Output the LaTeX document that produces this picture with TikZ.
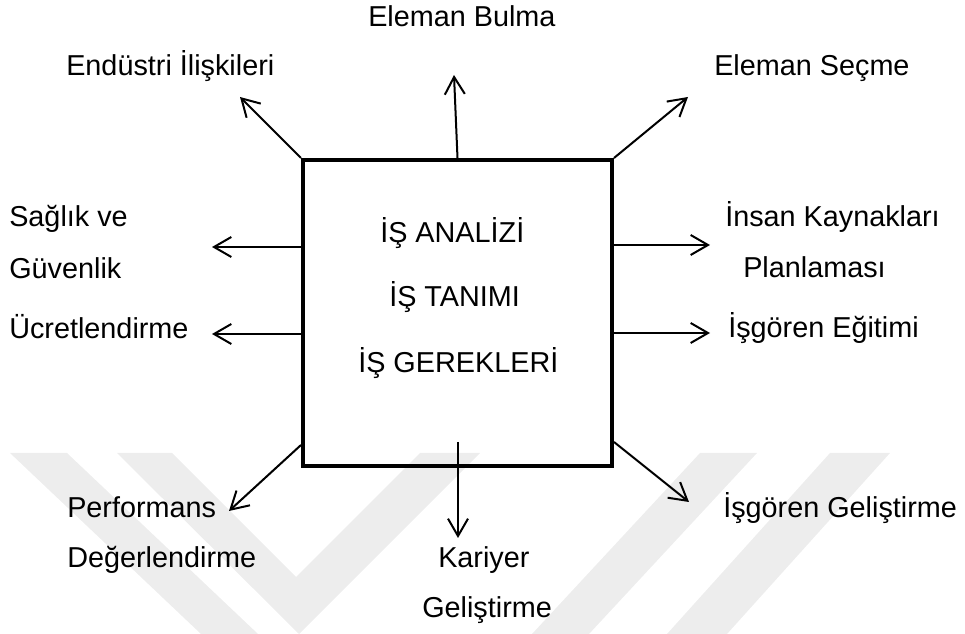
\documentclass[tikz,border=0pt]{standalone}
\usepackage{fontspec}
\setmainfont{Liberation Sans}
\usetikzlibrary{arrows.meta,calc}
\begin{document}
\begin{tikzpicture}[x=0.75pt,y=-0.75pt,
  lbl/.style={anchor=base west,inner sep=0pt,font=\fontsize{21.6}{26}\selectfont},
  arr/.style={line width=1.5pt,-{Straight Barb[length=13pt,width=15pt,line width=1.5pt]}},
  wm/.style={fill=black!7,draw=none},
  mainbox/.style={draw,line width=3pt,minimum width=231.75pt,minimum height=229.5pt,inner sep=0pt}]
\useasboundingbox (0,0) rectangle (965,634);
% faint watermark
\fill[wm] (10,453) -- (67,453) -- (258,634) -- (201,634) -- cycle;
\fill[wm] (117,453) -- (172,453) -- (296,577) -- (420,453) -- (480,453) -- (299,634) -- cycle;
\fill[wm] (700,453) -- (757,453) -- (589,634) -- (532,634) -- cycle;
\fill[wm] (830,453) -- (890,453) -- (727,634) -- (667,634) -- cycle;
% central box
\node[mainbox] (box) at (457.5,313) {};
\node[lbl] (t1) at (380,243) {İŞ ANALİZİ};
\node[lbl] (t2) at (389,307) {İŞ TANIMI};
\node[lbl] (t3) at (358,373) {İŞ GEREKLERİ};
% labels
\node[lbl] (bulma) at (368,27) {Eleman Bulma};
\node[lbl] (endus) at (66,76) {Endüstri İlişkileri};
\node[lbl] (secme) at (714,76) {Eleman Seçme};
\node[lbl] (sag1) at (9,227) {Sağlık ve};
\node[lbl] (sag2) at (9,279) {Güvenlik};
\node[lbl] (ucret) at (9,339) {Ücretlendirme};
\node[lbl] (ins1) at (725,227) {İnsan Kaynakları};
\node[lbl] (ins2) at (743,278) {Planlaması};
\node[lbl] (egit) at (728,338) {İşgören Eğitimi};
\node[lbl] (perf1) at (67,518) {Performans};
\node[lbl] (perf2) at (67,568) {Değerlendirme};
\node[lbl] (kar1) at (438,568) {Kariyer};
\node[lbl] (kar2) at (422,618) {Geliştirme};
\node[lbl] (gel) at (723,518) {İşgören Geliştirme};
% arrow tips
\coordinate (tEnd) at (240,97);
\coordinate (tBul) at (454,75);
\coordinate (tSec) at (688,97);
\coordinate (tSag) at (212,247);
\coordinate (tUcr) at (212,334);
\coordinate (tIns) at (710,245);
\coordinate (tEgi) at (710,333);
\coordinate (tPer) at (229,511);
\coordinate (tKar) at (458,538);
\coordinate (tGel) at (689,502);
% arrows
\draw[arr] (box.north west) -- (tEnd);
\draw[arr] (box.north) -- (tBul);
\draw[arr] (box.north east) -- (tSec);
\draw[arr] (box.west |- tSag) -- (tSag);
\draw[arr] (box.west |- tUcr) -- (tUcr);
\draw[arr] (box.east |- tIns) -- (tIns);
\draw[arr] (box.east |- tEgi) -- (tEgi);
\draw[arr] ($(box.south west)+(0,-23)$) -- (tPer);
\draw[arr] ($(box.south)+(0.5,-26)$) -- (tKar);
\draw[arr] ($(box.south east)+(0,-26)$) -- (tGel);
\end{tikzpicture}
\end{document}
